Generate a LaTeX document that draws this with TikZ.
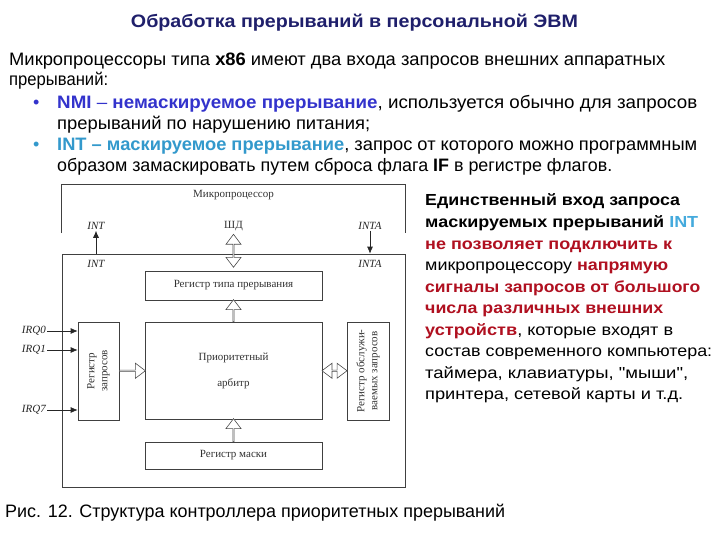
\documentclass[tikz,border=0pt]{standalone}
\usepackage{fontspec}
\usepackage{graphicx}
\setmainfont{Liberation Sans}[Ligatures=TeXOff]
\newfontfamily\serf{Liberation Serif}
\usetikzlibrary{shapes.arrows,arrows.meta}
\definecolor{titleblue}{HTML}{1F1F6B}
\definecolor{nmiblue}{HTML}{3333CC}
\definecolor{intblue}{HTML}{3399CC}
\definecolor{rintblue}{HTML}{44AADD}
\definecolor{warnred}{HTML}{B01020}
\newcommand{\fitw}[2]{\resizebox{#1}{\height}{#2}}
\begin{document}
\begin{tikzpicture}[x=1pt,y=-1pt,
  txt/.style={anchor=base west, inner sep=0pt, font=\fontsize{18}{21}\selectfont},
  rtxt/.style={anchor=base west, inner sep=0pt, font=\fontsize{16}{19}\selectfont},
  box/.style={draw=black!75, line width=0.7pt, inner sep=0pt},
  lbl/.style={inner sep=0pt, text=black!80, font=\serf\fontsize{11}{13}\selectfont},
  ilbl/.style={inner sep=1pt, text=black!85, font=\serf\itshape\fontsize{11}{13}\selectfont},
  sig/.style={draw=black!85, line width=0.7pt, -{Latex[length=7pt,width=6pt]}},
  hol/.style={single arrow, draw=black!70, fill=white, line width=0.6pt, inner sep=0pt,
    minimum width=15pt, single arrow head extend=3.5pt, single arrow tip angle=74},
  dbl/.style={double arrow, draw=black!70, fill=white, line width=0.6pt, inner sep=0pt,
    minimum width=15pt, double arrow head extend=3.5pt, double arrow tip angle=74}
]
\useasboundingbox[fill=white] (0,0) rectangle (720,540);

% title
\node[anchor=base, inner sep=0pt, text=titleblue, font=\bfseries\fontsize{18}{21}\selectfont] (title) at (354.5,28)
  {\fitw{447pt}{Обработка прерываний в персональной ЭВМ}};

% body text
\node[txt] (l1) at (9,66) {\fitw{656pt}{Микропроцессоры типа \textbf{x86} имеют два входа запросов внешних аппаратных}};
\node[txt] (l2) at (9,86) {\fitw{99pt}{прерываний:}};
\node[txt, text=nmiblue] (b1) at (33,109) {\textbullet};
\node[txt] (l3) at (57,109) {\fitw{640pt}{\textcolor{nmiblue}{\textbf{NMI} – \textbf{немаскируемое прерывание}}, используется обычно для запросов}};
\node[txt] (l4) at (57,130) {\fitw{313pt}{прерываний по нарушению питания;}};
\node[txt, text=intblue] (b2) at (33,151) {\textbullet};
\node[txt] (l5) at (57,151) {\fitw{640pt}{\textcolor{intblue}{\textbf{INT – маскируемое прерывание}}, запрос от которого можно программным}};
\node[txt] (l6) at (57,172) {\fitw{555pt}{образом замаскировать путем сброса флага \textbf{IF} в регистре флагов.}};

% right text
\node[rtxt] (r1) at (425,206) {\fitw{255pt}{\textbf{Единственный вход запроса}}};
\node[rtxt] (r2) at (425,227.5) {\fitw{273pt}{\textbf{маскируемых прерываний \textcolor{rintblue}{INT}}}};
\node[rtxt, text=warnred] (r3) at (425,249) {\fitw{247pt}{\textbf{не позволяет подключить к}}};
\node[rtxt] (r4) at (425,270.5) {\fitw{243pt}{микропроцессору \textcolor{warnred}{\textbf{напрямую}}}};
\node[rtxt, text=warnred] (r5) at (425,292) {\fitw{275pt}{\textbf{сигналы запросов от большого}}};
\node[rtxt, text=warnred] (r6) at (425,313.5) {\fitw{238pt}{\textbf{числа различных внешних}}};
\node[rtxt] (r7) at (425,335) {\fitw{248pt}{\textcolor{warnred}{\textbf{устройств}}, которые входят в}};
\node[rtxt] (r8) at (425,356.5) {\fitw{287pt}{состав современного компьютера:}};
\node[rtxt] (r9) at (425,378) {\fitw{263pt}{таймера, клавиатуры, "мыши",}};
\node[rtxt] (r10) at (425,399.5) {\fitw{258pt}{принтера, сетевой карты и т.д.}};

% caption
\node[txt] (cap) at (5,517) {\fitw{500pt}{Рис. 12. Структура контроллера приоритетных прерываний}};

% ---------- diagram ----------
\node[inner sep=0pt, minimum width=343pt, minimum height=48pt] (mp) at (233.5,209) {};
\draw[black!75, line width=0.7pt] (mp.south west) -- (mp.north west) -- (mp.north east) -- (mp.south east);
\node[lbl] (mpt) at (233.5,195) {Микропроцессор};

\node[box, minimum width=343pt, minimum height=233pt] (ctrl) at (233.5,370.5) {};

\node[box, minimum width=177pt, minimum height=29pt] (rt) at (233.5,285.5) {};
\node[lbl] at (rt.center) {Регистр типа прерывания};

\node[box, minimum width=177pt, minimum height=97pt, align=center, text=black!80,
      font=\serf\fontsize{11}{13}\selectfont] (arb) at (233.5,370.5) {Приоритетный\\[13pt]арбитр};

\node[box, minimum width=41pt, minimum height=98pt] (rq) at (98.5,371) {};
\node[lbl, rotate=90, align=center] at (rq.center) {Регистр\\запросов};

\node[box, minimum width=42pt, minimum height=98pt] (srv) at (368,371) {};
\node[lbl, rotate=90, align=center] at (srv.center) {Регистр обслужи-\\ваемых запросов};

\node[box, minimum width=177pt, minimum height=27pt] (mask) at (233.5,455.5) {};
\node[lbl] at (mask.center) {Регистр маски};

% labels
\node[ilbl] (int1) at (96,226) {INT};
\node[ilbl] (int2) at (96,264) {INT};
\node[lbl] (shd) at (233.5,226) {ШД};
\node[ilbl] (inta1) at (370,226) {INTA};
\node[ilbl] (inta2) at (370,264) {INTA};

\draw[sig] (int1.south |- ctrl.north) -- (int1.south);
\draw[sig] (inta1.south) -- (inta1.south |- ctrl.north);

% IRQ
\node[ilbl, anchor=east] (irq0) at (47,331) {IRQ0};
\node[ilbl, anchor=east] (irq1) at (47,350) {IRQ1};
\node[ilbl, anchor=east] (irq7) at (47,410) {IRQ7};
\draw[sig] (irq0.east) -- (irq0.east -| rq.west);
\draw[sig] (irq1.east) -- (irq1.east -| rq.west);
\draw[sig] (irq7.east) -- (irq7.east -| rq.west);

% hollow arrows
\path (shd.south) -- (rt.north) node[dbl, midway, rotate=90, minimum height=33pt] (dshd) {};
\path (arb.north) -- (rt.south) node[hol, midway, rotate=90, minimum height=22pt] (a1) {};
\path (mask.north) -- (arb.south) node[hol, midway, rotate=90, minimum height=23pt] (a2) {};
\path (rq.east) -- (arb.west) node[hol, midway, minimum height=26pt] (a3) {};
\path (arb.east) -- (srv.west) node[dbl, midway, minimum height=25pt] (a4) {};
\end{tikzpicture}
\end{document}
